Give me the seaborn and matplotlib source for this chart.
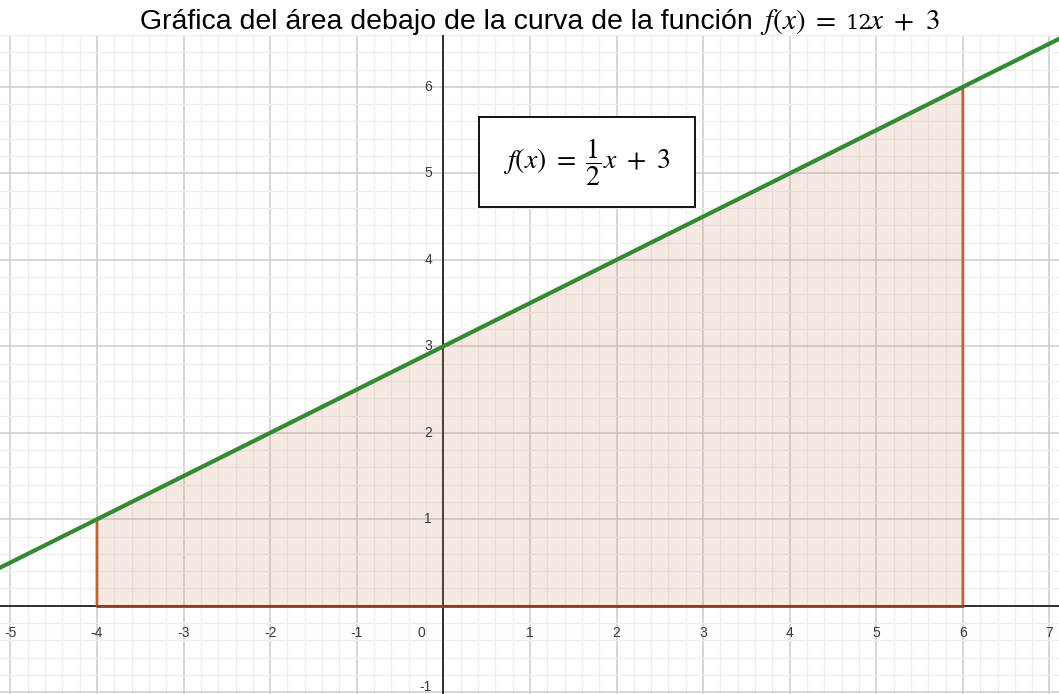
import matplotlib
matplotlib.use("Agg")
import matplotlib.pyplot as plt
import seaborn as sns
import numpy as np
import pandas as pd
from matplotlib.patches import Polygon, Rectangle

# ---- data ----
line_x = [-6, -4, 0, 6, 8]
line_y = [0, 1, 3, 6, 7]
area_x = [-4, -4, 6, 6]
area_y = [0, 1, 6, 0]
x_ticks = [-5, -4, -3, -2, -1, 1, 2, 3, 4, 5, 6, 7]
y_ticks = [1, 2, 3, 4, 5, 6]
title_text = "Gráfica del área debajo de la curva de la función"
title_math_a = r"$f(x)\ =$"
title_math_b = "12"
title_math_c = r"$x\ +\ 3$"
box_text = r"$f(x)\ =\ \dfrac{1}{2}x\ +\ 3$"

sns.set_theme(style="white")
plt.rcParams['font.family'] = ['Liberation Sans', 'DejaVu Sans']
plt.rcParams['mathtext.fontset'] = 'stix'

XLIM = (-5.12, 7.11)
YLIM = (-1.02, 6.6)

fig = plt.figure(figsize=(10.59, 6.94), dpi=100)
ax = fig.add_axes([0, 0, 1, (694 - 35) / 694])

# grid
ax.set_xticks(np.arange(-5, 8, 1))
ax.set_yticks(np.arange(-1, 7, 1))
ax.set_xticks(np.arange(-5.2, 7.2, 0.2), minor=True)
ax.set_yticks(np.arange(-1.2, 6.8, 0.2), minor=True)
ax.grid(which='major', color='#cbcbcb', linewidth=1.1)
ax.grid(which='minor', color='#eeeeee', linewidth=0.9)
ax.tick_params(which='both', length=0, labelbottom=False, labelleft=False)
for s in ax.spines.values():
    s.set_visible(False)
ax.set_axisbelow(True)

# axes lines
ax.axhline(0, color='#222222', linewidth=1.3, zorder=2)
ax.axvline(0, color='#222222', linewidth=1.3, zorder=2)

# area
poly = Polygon(list(zip(area_x, area_y)), closed=True, facecolor='#c88a6a',
               alpha=0.18, edgecolor='none', zorder=3)
ax.add_patch(poly)
ax.plot(area_x, area_y, color='#b8653f', linewidth=2.0, zorder=4)
ax.plot([area_x[0], area_x[-1]], [area_y[0], area_y[-1]], color='#8a3f22', linewidth=2.0, zorder=4)

# function line
df = pd.DataFrame({'x': line_x, 'y': line_y})
sns.lineplot(data=df, x='x', y='y', ax=ax, color='#338a33', linewidth=3.0, zorder=5)
ax.set_xlabel('')
ax.set_ylabel('')

# tick labels drawn near the axes (GeoGebra style)
for t in x_ticks:
    ax.text(t, -0.32, str(t), ha='center', va='center', fontsize=10, color='#3a3a3a', zorder=6)
ax.text(-0.25, -0.32, '0', ha='center', va='center', fontsize=10, color='#3a3a3a', zorder=6)
for t in y_ticks:
    ax.text(-0.13, t, str(t), ha='right', va='center', fontsize=10, color='#3a3a3a', zorder=6)
# "-1" sits at the very bottom edge
ax.text(-0.13, -1.015, '-1', ha='right', va='bottom', fontsize=10, color='#3a3a3a', zorder=6)

# formula box
ax.add_patch(Rectangle((0.41, 4.613), 2.495, 1.04, facecolor='white', edgecolor='black',
                       linewidth=1.3, zorder=7))
ax.text(1.65, 5.13, box_text, ha='center', va='center', fontsize=20, color='black', zorder=8)

ax.set_xlim(*XLIM)
ax.set_ylim(*YLIM)

# title
yb = 1 - 29 / 694
fig.text(753 / 1059, yb, title_text, ha='right', va='baseline', fontsize=20.5, color='black')
fig.text(760 / 1059, yb, title_math_a, ha='left', va='baseline', fontsize=21, color='black')
fig.text(845 / 1059, yb, title_math_b, ha='left', va='baseline', fontsize=15,
         family='DejaVu Serif', color='black')
fig.text(869 / 1059, yb, title_math_c, ha='left', va='baseline', fontsize=21, color='black')

fig.savefig('out.png', dpi=100)
